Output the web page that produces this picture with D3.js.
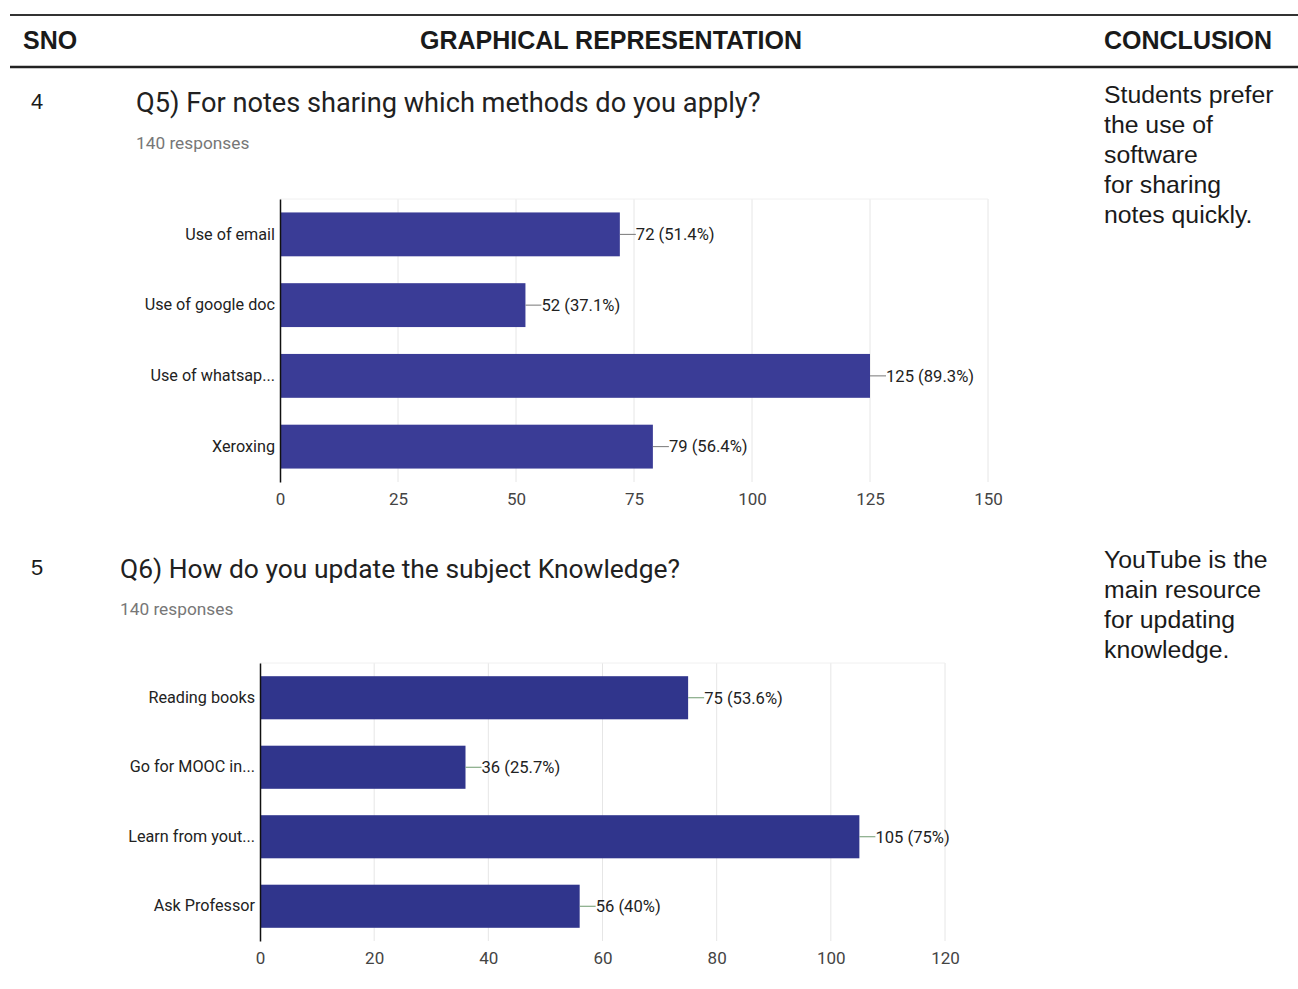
<!DOCTYPE html>
<html><head><meta charset="utf-8">
<script src="https://cdn.jsdelivr.net/npm/d3@7"></script>
<style>body{margin:0;background:#fff}svg{display:block}</style>
</head><body>
<script>
// ---- data ----
const headers = ["SNO", "GRAPHICAL REPRESENTATION", "CONCLUSION"];
const snos = ["4", "5"];
const titles = ["Q5) For notes sharing which methods do you apply?", "Q6) How do you update the subject Knowledge?"];
const responses = ["140 responses", "140 responses"];
const categories1 = ["Use of email", "Use of google doc", "Use of whatsap...", "Xeroxing"];
const values1 = [72, 52, 125, 79];
const percents1 = ["51.4%", "37.1%", "89.3%", "56.4%"];
const ticks1 = [0, 25, 50, 75, 100, 125, 150];
const categories2 = ["Reading books", "Go for MOOC in...", "Learn from yout...", "Ask Professor"];
const values2 = [75, 36, 105, 56];
const percents2 = ["53.6%", "25.7%", "75%", "40%"];
const ticks2 = [0, 20, 40, 60, 80, 100, 120];
const conclusion1 = ["Students prefer", "the use of", "software", "for sharing", "notes quickly."];
const conclusion2 = ["YouTube is the", "main resource", "for updating", "knowledge."];

const W = 1298, H = 989;
const svg = d3.select("body").append("svg").attr("width", W).attr("height", H);

// header
svg.append("line").attr("x1", 10).attr("x2", W).attr("y1", 15).attr("y2", 15).attr("stroke", "#333").attr("stroke-width", 2);
svg.append("line").attr("x1", 10).attr("x2", W).attr("y1", 67).attr("y2", 67).attr("stroke", "#222").attr("stroke-width", 2.5);
const hx = [23, 420, 1104];
headers.forEach((h, i) => {
  svg.append("text").attr("x", hx[i]).attr("y", 49).text(h)
    .attr("font-family", "Liberation Sans, Arial, sans-serif").attr("font-weight", "bold")
    .attr("font-size", 25).attr("fill", "#1a1a1a");
});

const ff = "Roboto, sans-serif";

function drawChart(cfg) {
  const g = svg.append("g");
  g.append("text").attr("x", 31).attr("y", cfg.snoY).text(cfg.sno)
    .attr("font-family", "Liberation Sans, Arial, sans-serif").attr("font-size", 22).attr("fill", "#1a1a1a");
  g.append("text").attr("x", cfg.titleX).attr("y", cfg.titleY).text(cfg.title)
    .attr("font-family", ff).attr("font-size", cfg.titleSize).attr("fill", "#212121");
  g.append("text").attr("x", cfg.titleX).attr("y", cfg.titleY + 37).text(cfg.resp)
    .attr("font-family", ff).attr("font-size", 17.3).attr("fill", "#777");

  const x = d3.scaleLinear().domain([0, cfg.ticks[cfg.ticks.length - 1]]).range([cfg.x0, cfg.x1]);
  const y = d3.scaleBand().domain(cfg.cats).range([cfg.y0, cfg.y1]).paddingInner(0.38).paddingOuter(0.19);

  // grid
  g.append("g").selectAll("line").data(cfg.ticks.slice(1)).join("line")
    .attr("x1", d => x(d)).attr("x2", d => x(d)).attr("y1", cfg.y0).attr("y2", cfg.y1)
    .attr("stroke", "#e6e6e6").attr("stroke-width", 1);
  g.append("line").attr("x1", cfg.x0).attr("x2", cfg.x1).attr("y1", cfg.y0).attr("y2", cfg.y0)
    .attr("stroke", "#f0f0f0");

  // bars
  g.append("g").selectAll("rect").data(cfg.vals).join("rect")
    .attr("x", x(0)).attr("y", (d, i) => y(cfg.cats[i]))
    .attr("width", d => x(d) - x(0)).attr("height", y.bandwidth())
    .attr("fill", cfg.color);

  // leader + value labels
  g.append("g").selectAll("line").data(cfg.vals).join("line")
    .attr("x1", d => x(d)).attr("x2", d => x(d) + 16)
    .attr("y1", (d, i) => y(cfg.cats[i]) + y.bandwidth() / 2)
    .attr("y2", (d, i) => y(cfg.cats[i]) + y.bandwidth() / 2)
    .attr("stroke", cfg.leader).attr("stroke-width", 1);
  g.append("g").selectAll("text").data(cfg.vals).join("text")
    .attr("x", d => x(d) + 16).attr("y", (d, i) => y(cfg.cats[i]) + y.bandwidth() / 2)
    .attr("dy", "0.35em").text((d, i) => `${d} (${cfg.pcts[i]})`)
    .attr("font-family", ff).attr("font-size", 16.6).attr("fill", "#222");

  // y axis
  const ya = g.append("g").attr("transform", `translate(${cfg.x0},0)`)
    .call(d3.axisLeft(y).tickSize(0).tickPadding(5));
  ya.select(".domain").attr("stroke", "#111").attr("stroke-width", 1.5);
  ya.selectAll("text").attr("font-family", ff).attr("font-size", 16.2).attr("fill", "#222");

  // x axis
  const xa = g.append("g").attr("transform", `translate(0,${cfg.y1})`)
    .call(d3.axisBottom(x).tickValues(cfg.ticks).tickSize(0).tickPadding(11).tickFormat(d3.format("d")));
  xa.select(".domain").remove();
  xa.selectAll("text").attr("font-family", ff).attr("font-size", 17).attr("fill", "#444");

  // conclusion
  g.append("g").selectAll("text").data(cfg.concl).join("text")
    .attr("x", 1104).attr("y", (d, i) => cfg.conclY + i * 30).text(d => d)
    .attr("font-family", "Liberation Sans, Arial, sans-serif").attr("font-size", 24.8).attr("fill", "#1a1a1a");
}

drawChart({
  sno: snos[0], snoY: 109, title: titles[0], titleX: 136, titleY: 112, titleSize: 27.2, resp: responses[0],
  cats: categories1, vals: values1, pcts: percents1, ticks: ticks1,
  x0: 280, x1: 988, y0: 199, y1: 482, color: "#3a3c96", leader: "#777",
  concl: conclusion1, conclY: 103
});
drawChart({
  sno: snos[1], snoY: 575, title: titles[1], titleX: 120, titleY: 578, titleSize: 26.4, resp: responses[1],
  cats: categories2, vals: values2, pcts: percents2, ticks: ticks2,
  x0: 260, x1: 945, y0: 663, y1: 941, color: "#30358c", leader: "#6f9a6f",
  concl: conclusion2, conclY: 568
});
</script>
</body></html>
